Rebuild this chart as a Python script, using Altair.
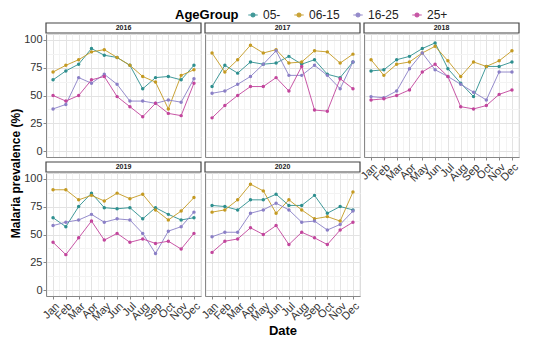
import altair as alt
import pandas as pd

months = ["Jan", "Feb", "Mar", "Apr", "May", "Jun", "Jul", "Aug", "Sep", "Oct", "Nov", "Dec"]
groups = ["05-", "06-15", "16-25", "25+"]
colors = ["#2E8F8F", "#C49A22", "#8A7FC6", "#C2459C"]
years = ["2016", "2017", "2018", "2019", "2020"]

# prevalence (%) per year, per age group, Jan..Dec
y2016_05 = [64, 72, 78, 92, 86, 84, 77, 56, 66, 67, 64, 77]
y2016_0615 = [71, 77, 82, 89, 91, 84, 77, 67, 62, 38, 68, 73]
y2016_1625 = [38, 42, 66, 61, 69, 60, 45, 45, 43, 46, 44, 65]
y2016_25 = [50, 45, 50, 64, 67, 49, 40, 31, 43, 34, 32, 61]

y2017_05 = [58, 77, 70, 80, 78, 79, 85, 78, 82, 69, 66, 80]
y2017_0615 = [88, 71, 82, 95, 88, 91, 79, 80, 90, 89, 79, 87]
y2017_1625 = [52, 54, 60, 67, 78, 90, 68, 68, 77, 68, 56, 80]
y2017_25 = [30, 41, 50, 58, 58, 66, 54, 76, 37, 36, 65, 56]

y2018_05 = [72, 73, 82, 85, 92, 97, 74, 61, 49, 76, 76, 80]
y2018_0615 = [82, 68, 78, 80, 88, 94, 81, 67, 80, 76, 81, 90]
y2018_1625 = [49, 48, 54, 74, 88, 73, 67, 60, 53, 46, 71, 71]
y2018_25 = [46, 47, 50, 55, 71, 78, 67, 40, 38, 41, 51, 55]

y2019_05 = [65, 57, 75, 87, 74, 73, 74, 64, 74, 68, 63, 65]
y2019_0615 = [90, 90, 81, 85, 80, 87, 82, 86, 72, 63, 71, 83]
y2019_1625 = [58, 61, 63, 68, 61, 64, 63, 51, 33, 53, 57, 70]
y2019_25 = [43, 32, 47, 62, 45, 51, 43, 46, 42, 44, 37, 51]

y2020_05 = [76, 75, 72, 81, 81, 86, 76, 76, 85, 69, 75, 72]
y2020_0615 = [70, 72, 81, 95, 89, 69, 81, 72, 64, 66, 62, 88]
y2020_1625 = [48, 52, 52, 69, 72, 78, 72, 61, 62, 54, 59, 71]
y2020_25 = [34, 44, 46, 56, 50, 58, 41, 52, 47, 41, 54, 61]

series = {
    "2016": [y2016_05, y2016_0615, y2016_1625, y2016_25],
    "2017": [y2017_05, y2017_0615, y2017_1625, y2017_25],
    "2018": [y2018_05, y2018_0615, y2018_1625, y2018_25],
    "2019": [y2019_05, y2019_0615, y2019_1625, y2019_25],
    "2020": [y2020_05, y2020_0615, y2020_1625, y2020_25],
}

rows = []
for yr in years:
    for g, vals in zip(groups, series[yr]):
        for i, v in enumerate(vals):
            rows.append({"Year": yr, "AgeGroup": g, "Month": i + 1, "Value": v})
df = pd.DataFrame(rows)

W, H = 155, 123
month_arr = "[" + ",".join("'" + m + "'" for m in months) + "]"
x_label_expr = "datum.value % 1 === 0 ? " + month_arr + "[datum.value-1] : ''"
x_vals = [i * 0.5 for i in range(1, 26)]
y_vals = [i * 12.5 for i in range(0, 9)]

color = alt.Color(
    "AgeGroup:N",
    scale=alt.Scale(domain=groups, range=colors),
    legend=alt.Legend(
        title="AgeGroup", orient="none", direction="horizontal",
        titleOrient="left", legendX=129, legendY=-25,
        symbolType="M-1,0L1,0M-0.4,0A0.4,0.4,0,1,1,0.4,0A0.4,0.4,0,1,1,-0.4,0",
        symbolSize=90, symbolStrokeWidth=1.2, titleFontSize=13,
        titleFontWeight="bold", labelFontSize=12, columnPadding=10,
        titleColor="#000", labelColor="#222", titlePadding=8,
    ),
)

grid_x = {"condition": {"test": "datum.value % 1 !== 0", "value": "#F3F3F3"}, "value": "#E3E3E3"}
grid_y = {"condition": {"test": "datum.value % 25 !== 0", "value": "#F3F3F3"}, "value": "#E3E3E3"}
tick_x = {"condition": {"test": "datum.value % 1 !== 0", "value": 0}, "value": 1}
tick_y = {"condition": {"test": "datum.value % 25 !== 0", "value": 0}, "value": 1}


def panel(year, show_y, show_x, xtitle=None):
    d = df[df.Year == year]
    if show_x:
        if xtitle:
            kw = dict(title=xtitle, titleFontSize=13, titleFontWeight="bold",
                      titleColor="#000", titlePadding=2)
        else:
            kw = dict(title=None)
        xaxis = alt.Axis(
            values=x_vals, gridColor=grid_x, tickOpacity=tick_x,
            labelExpr=x_label_expr,
            labelAngle=315, labelAlign="right", labelBaseline="top",
            labelFontSize=11, labelColor="#333", tickSize=3, labelPadding=1,
            labelOverlap=False, **kw,
        )
    else:
        xaxis = alt.Axis(values=x_vals, title=None, labels=False, ticks=False,
                         gridColor=grid_x)
    if show_y:
        yaxis = alt.Axis(
            values=y_vals, title=None, gridColor=grid_y, tickOpacity=tick_y,
            labelExpr="datum.value % 25 === 0 ? datum.label : ''",
            labelFontSize=11, labelColor="#333", tickSize=3, labelPadding=1,
        )
    else:
        yaxis = alt.Axis(values=y_vals, title=None, labels=False, ticks=False,
                         gridColor=grid_y)
    x = alt.X("Month:Q", scale=alt.Scale(domain=[0.45, 12.55], nice=False, zero=False), axis=xaxis)
    y = alt.Y("Value:Q", scale=alt.Scale(domain=[-5, 105], nice=False, zero=False), axis=yaxis)
    base = alt.Chart(d)
    lines = base.mark_line(strokeWidth=1, opacity=0.9).encode(x=x, y=y, color=color)
    pts = base.mark_point(filled=True, size=12, opacity=1).encode(x=x, y=y, color=color)
    sd = alt.Chart(pd.DataFrame({"Year": [year]}))
    strip = sd.mark_rect(fill="white", stroke="#444", strokeWidth=1.2).encode(
        x=alt.value(0), x2=alt.value(W), y=alt.value(-11), y2=alt.value(-1))
    stext = sd.mark_text(fontSize=7, fontWeight="bold", color="#1a1a1a", baseline="middle").encode(
        x=alt.value(W / 2), y=alt.value(-6), text="Year:N")
    return alt.layer(lines, pts, strip, stext).properties(width=W, height=H)


grid = alt.concat(
    panel("2016", True, False),
    panel("2017", False, False),
    panel("2018", False, True),
    panel("2019", True, True),
    panel("2020", False, True, xtitle="Date"),
    columns=3, spacing={"row": 16, "column": 4}, bounds="flush",
)
chart = alt.vconcat(grid).properties(
    title=alt.TitleParams("Malaria prevalence (%)", orient="left", anchor="middle",
                          fontSize=12, fontWeight="bold", color="#000", offset=0),
    padding={"left": 2, "top": 1, "right": 0, "bottom": 0},
).configure_view(stroke="#999", strokeWidth=1).configure_axis(
    domain=False, tickColor="#333", labelFont="Liberation Sans"
).configure(font="Liberation Sans")

chart.save("out.html", embed_options={"renderer": "svg", "actions": False})
